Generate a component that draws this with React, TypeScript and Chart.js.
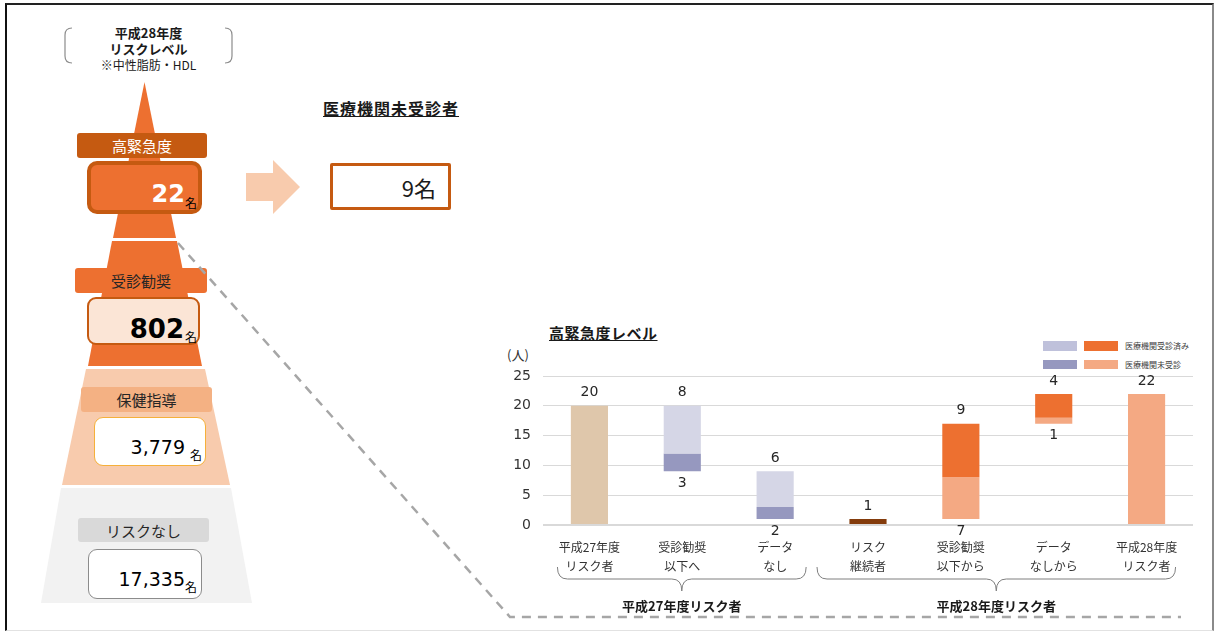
import React, { useEffect, useRef } from "react";
import { Chart, registerables } from "chart.js";
Chart.register(...registerables);

// ---------- data ----------
const categories = [
  ["平成27年度", "リスク者"],
  ["受診勧奨", "以下へ"],
  ["データ", "なし"],
  ["リスク", "継続者"],
  ["受診勧奨", "以下から"],
  ["データ", "なしから"],
  ["平成28年度", "リスク者"],
];
const riskH27 = [[0, 20], null, null, null, null, null, null];
const outVisited = [null, [12, 20], [3, 9], null, null, null, null];
const outNotVisited = [null, [9, 12], [1, 3], null, null, null, null];
const continuing = [null, null, null, [0, 1], null, null, null];
const inVisited = [null, null, null, null, [8, 17], [18, 22], null];
const inNotVisited = [null, null, null, null, [1, 8], [17, 18], [0, 22]];
const yTicks = [0, 5, 10, 15, 20, 25];
const groupLabels = ["平成27年度リスク者", "平成28年度リスク者"];
const groupSpans = [[0, 2], [3, 6]];
const legendLabels = ["医療機関受診済み", "医療機関未受診"];

const levelNames = ["高緊急度", "受診勧奨", "保健指導", "リスクなし"];
const levelCounts = ["22", "802", "3,779", "17,335"];
const unvisitedCount = "9";

// ---------- styles ----------
const NUM = "'DejaVu Sans', 'Noto Sans CJK JP', sans-serif";
const JP = "'Noto Sans CJK JP', 'DejaVu Sans', sans-serif";

const levelStyles = [
  {
    tab: { l: 77, t: 133, w: 130, h: 25, bg: "#C55A11", c: "#FFFFFF" },
    box: { l: 87, t: 161, w: 115, h: 53, bg: "#ED7030", bd: "4px solid #C55A11", r: 10 },
    num: { right: 185, cy: 193.5, f: 24, w: 700, c: "#FFFFFF" },
    unit: { l: 185, cy: 204 },
  },
  {
    tab: { l: 75, t: 268, w: 132, h: 25, bg: "#ED7030", c: "#262626" },
    box: { l: 87, t: 297, w: 113, h: 48, bg: "#FBE5D6", bd: "2px solid #C55A11", r: 9 },
    num: { right: 184, cy: 328, f: 26, w: 700, c: "#000000" },
    unit: { l: 185, cy: 338 },
  },
  {
    tab: { l: 81, t: 387, w: 131, h: 25, bg: "#F4B183", c: "#262626" },
    box: { l: 94, t: 417, w: 112, h: 49, bg: "#FFFFFF", bd: "1px solid #F5B03A", r: 9 },
    num: { right: 185, cy: 447, f: 19, w: 400, c: "#000000" },
    unit: { l: 190, cy: 456 },
  },
  {
    tab: { l: 78, t: 518, w: 131, h: 24, bg: "#D9D9D9", c: "#262626" },
    box: { l: 88, t: 549, w: 114, h: 50, bg: "#FFFFFF", bd: "1px solid #8C8C8C", r: 9 },
    num: { right: 185, cy: 579, f: 19, w: 400, c: "#000000" },
    unit: { l: 185, cy: 588 },
  },
];

function WaterfallChart() {
  const ref = useRef<HTMLCanvasElement>(null);
  useEffect(() => {
    const canvas = ref.current!;
    const labelPlugin = {
      id: "valueLabelsAndBraces",
      afterDatasetsDraw(chart: any) {
        const { ctx } = chart;
        const xs = chart.scales.x;
        const ys = chart.scales.y;
        const bottom = chart.chartArea.bottom;
        ctx.save();
        ctx.font = `14px ${NUM}`;
        ctx.fillStyle = "#262626";
        ctx.textAlign = "center";
        ctx.textBaseline = "middle";
        categories.forEach((_, i) => {
          const segs = chart.data.datasets
            .map((d: any) => d.data[i])
            .filter((v: any) => v)
            .sort((a: number[], b: number[]) => a[0] - b[0]);
          if (!segs.length) return;
          const x = xs.getPixelForValue(i);
          const top = segs[segs.length - 1];
          ctx.fillText(String(top[1] - top[0]), x, ys.getPixelForValue(top[1]) - 13);
          if (segs.length > 1) {
            const b = segs[0];
            ctx.fillText(String(b[1] - b[0]), x, ys.getPixelForValue(b[0]) + 12);
          }
        });
        // braces
        const pads = [
          [32, 31],
          [51, 29],
        ];
        ctx.strokeStyle = "#7F7F7F";
        ctx.lineWidth = 1;
        const y0 = bottom + 42;
        const yh = bottom + 54;
        const yt = bottom + 66;
        groupSpans.forEach((span, gi) => {
          const x1 = xs.getPixelForValue(span[0]) - pads[gi][0];
          const x2 = xs.getPixelForValue(span[1]) + pads[gi][1];
          const xm = (x1 + x2) / 2;
          ctx.beginPath();
          ctx.moveTo(x1, y0);
          ctx.quadraticCurveTo(x1, yh, x1 + 10, yh);
          ctx.lineTo(xm - 10, yh);
          ctx.quadraticCurveTo(xm, yh, xm, yt);
          ctx.quadraticCurveTo(xm, yh, xm + 10, yh);
          ctx.lineTo(x2 - 10, yh);
          ctx.quadraticCurveTo(x2, yh, x2, y0);
          ctx.stroke();
          ctx.font = `bold 13px ${JP}`;
          ctx.fillStyle = "#1a1a1a";
          ctx.fillText(groupLabels[gi], xm, bottom + 81);
        });
        ctx.restore();
      },
    };

    const chart = new Chart(canvas, {
      type: "bar",
      data: {
        labels: categories,
        datasets: [
          { label: "平成27年度リスク者", data: riskH27 as any, backgroundColor: "#DFC7AB" },
          { label: "医療機関受診済み(27)", data: outVisited as any, backgroundColor: "#D5D6E6" },
          { label: "医療機関未受診(27)", data: outNotVisited as any, backgroundColor: "#9698BF" },
          { label: "リスク継続者", data: continuing as any, backgroundColor: "#843C0C" },
          { label: "医療機関受診済み(28)", data: inVisited as any, backgroundColor: "#ED7030" },
          { label: "医療機関未受診(28)", data: inNotVisited as any, backgroundColor: "#F4A983" },
        ],
      },
      options: {
        responsive: false,
        animation: false,
        devicePixelRatio: 1,
        layout: { padding: { top: 36, right: 7, left: 0, bottom: 0 } },
        datasets: { bar: { barPercentage: 0.4, categoryPercentage: 1, borderWidth: 0 } },
        plugins: { legend: { display: false }, tooltip: { enabled: false } },
        scales: {
          x: {
            stacked: true,
            grid: { display: false, drawTicks: false },
            border: { display: false },
            ticks: {
              autoSkip: false,
              maxRotation: 0,
              padding: 13,
              color: "#333333",
              font: { family: JP, size: 12, lineHeight: 1.6 },
            },
            afterFit(scale: any) {
              scale.height = 107;
            },
          },
          y: {
            stacked: false,
            min: 0,
            max: 25,
            afterBuildTicks(scale: any) {
              scale.ticks = yTicks.map((v) => ({ value: v }));
            },
            grid: {
              color: "#D9D9D9",
              drawTicks: false,
              lineWidth: (c: any) => (c.tick && c.tick.value === 0 ? 2 : 1),
            },
            border: { display: false },
            ticks: {
              padding: 12,
              color: "#333333",
              font: { family: NUM, size: 14 },
            },
            afterFit(scale: any) {
              scale.width = 43;
            },
          },
        },
      },
      plugins: [labelPlugin],
    });
    return () => chart.destroy();
  }, []);
  return (
    <canvas
      ref={ref}
      width={700}
      height={292}
      style={{ position: "absolute", left: 500, top: 340, width: 700, height: 292 }}
    />
  );
}

export default function App() {
  const abs = (s: any) => ({ position: "absolute" as const, ...s });
  return (
    <div style={abs({ left: 0, top: 0, width: 1215, height: 632, background: "#fff", overflow: "hidden", fontFamily: JP })}>
      <div
        style={abs({
          left: 5,
          top: 3,
          width: 1209,
          height: 628,
          boxSizing: "border-box",
          borderTop: "2px solid #222",
          borderLeft: "2px solid #111",
          borderRight: "2px solid #8a8a8a",
          borderBottom: "1px solid #e2e2e2",
        })}
      />
      <svg width={1215} height={632} style={abs({ left: 0, top: 0 })}>
        {/* pyramid */}
        <polygon points="144.5,82 176,238 113,238" fill="#ED7030" />
        <polygon points="112,241 177,241 202,366 88,366" fill="#ED7030" />
        <polygon points="86,369 205,369 230,485 62,485" fill="#F8CBAD" />
        <polygon points="61,488 231,488 252,603 41,603" fill="#F2F2F2" />
        {/* brackets */}
        <path d="M72,28 Q65,28 65,35 L65,56 Q65,63 72,63" fill="none" stroke="#8C8C8C" strokeWidth={1.2} />
        <path d="M225,28 Q232,28 232,35 L232,56 Q232,63 225,63" fill="none" stroke="#8C8C8C" strokeWidth={1.2} />
        {/* arrow */}
        <polygon points="246,173 273,173 273,160 300,187 273,214 273,201 246,201" fill="#F8CBAD" />
      </svg>

      {/* heading */}
      <div style={abs({ left: 98, top: 25, width: 101, textAlign: "center", fontSize: 13, fontWeight: 700, lineHeight: "15.5px", color: "#1a1a1a" })}>
        平成28年度
        <br />
        リスクレベル
      </div>
      <div style={abs({ left: 88, top: 57, width: 121, textAlign: "center", fontSize: 12, lineHeight: "16px", color: "#1a1a1a" })}>
        ※中性脂肪・HDL
      </div>

      {levelStyles.map((s, i) => (
        <React.Fragment key={i}>
          <div
            style={abs({
              left: s.tab.l,
              top: s.tab.t,
              width: s.tab.w,
              height: s.tab.h,
              background: s.tab.bg,
              color: s.tab.c,
              borderRadius: 3,
              display: "flex",
              alignItems: "center",
              justifyContent: "center",
              fontSize: 15,
            })}
          >
            {levelNames[i]}
          </div>
          <div
            style={abs({
              left: s.box.l,
              top: s.box.t,
              width: s.box.w,
              height: s.box.h,
              background: s.box.bg,
              border: s.box.bd,
              borderRadius: s.box.r,
              boxSizing: "border-box",
            })}
          />
          <div
            style={abs({
              right: 1215 - s.num.right,
              top: s.num.cy - 0.48 * s.num.f,
              fontFamily: NUM,
              fontSize: s.num.f,
              fontWeight: s.num.w,
              lineHeight: `${s.num.f}px`,
              color: s.num.c,
              whiteSpace: "nowrap",
            })}
          >
            {levelCounts[i]}
          </div>
          <div style={abs({ left: s.unit.l, top: s.unit.cy - 7, fontSize: 12, lineHeight: "12px", color: "#000" })}>名</div>
        </React.Fragment>
      ))}

      {/* unvisited */}
      <div
        style={abs({
          left: 323,
          top: 100,
          fontSize: 16,
          fontWeight: 700,
          lineHeight: "17px",
          letterSpacing: 1,
          textDecoration: "underline",
          color: "#1a1a1a",
        })}
      >
        医療機関未受診者
      </div>
      <div
        style={abs({
          left: 330,
          top: 163,
          width: 121,
          height: 47,
          border: "3px solid #C55A11",
          borderRadius: 2,
          boxSizing: "border-box",
          background: "#fff",
        })}
      />
      <div style={abs({ right: 1215 - 436, top: 175, fontSize: 22, lineHeight: "24px", color: "#1a1a1a", whiteSpace: "nowrap" })}>
        {unvisitedCount}名
      </div>

      {/* chart title */}
      <div
        style={abs({
          left: 549,
          top: 325,
          fontSize: 15,
          fontWeight: 700,
          lineHeight: "16px",
          letterSpacing: 0.5,
          textDecoration: "underline",
          color: "#1a1a1a",
        })}
      >
        高緊急度レベル
      </div>
      <div style={abs({ left: 507, top: 347, fontSize: 13, lineHeight: "16px", color: "#333" })}>(人)</div>

      {/* legend */}
      <div style={abs({ left: 1043, top: 341, width: 34, height: 10, background: "#BFC1DB" })} />
      <div style={abs({ left: 1084, top: 341, width: 34, height: 10, background: "#ED7030" })} />
      <div style={abs({ left: 1125, top: 341, fontSize: 8, lineHeight: "10px", color: "#404040", whiteSpace: "nowrap" })}>
        {legendLabels[0]}
      </div>
      <div style={abs({ left: 1043, top: 360, width: 34, height: 9, background: "#9698BF" })} />
      <div style={abs({ left: 1084, top: 360, width: 34, height: 9, background: "#F4A983" })} />
      <div style={abs({ left: 1125, top: 360, fontSize: 8, lineHeight: "10px", color: "#404040", whiteSpace: "nowrap" })}>
        {legendLabels[1]}
      </div>

      <WaterfallChart />

      {/* dashed connector */}
      <svg width={1215} height={632} style={abs({ left: 0, top: 0, pointerEvents: "none" })}>
        <polyline
          points="178,243 510,617 1181,617"
          fill="none"
          stroke="#A6A6A6"
          strokeWidth={2.5}
          strokeDasharray="9 7"
        />
      </svg>
    </div>
  );
}
